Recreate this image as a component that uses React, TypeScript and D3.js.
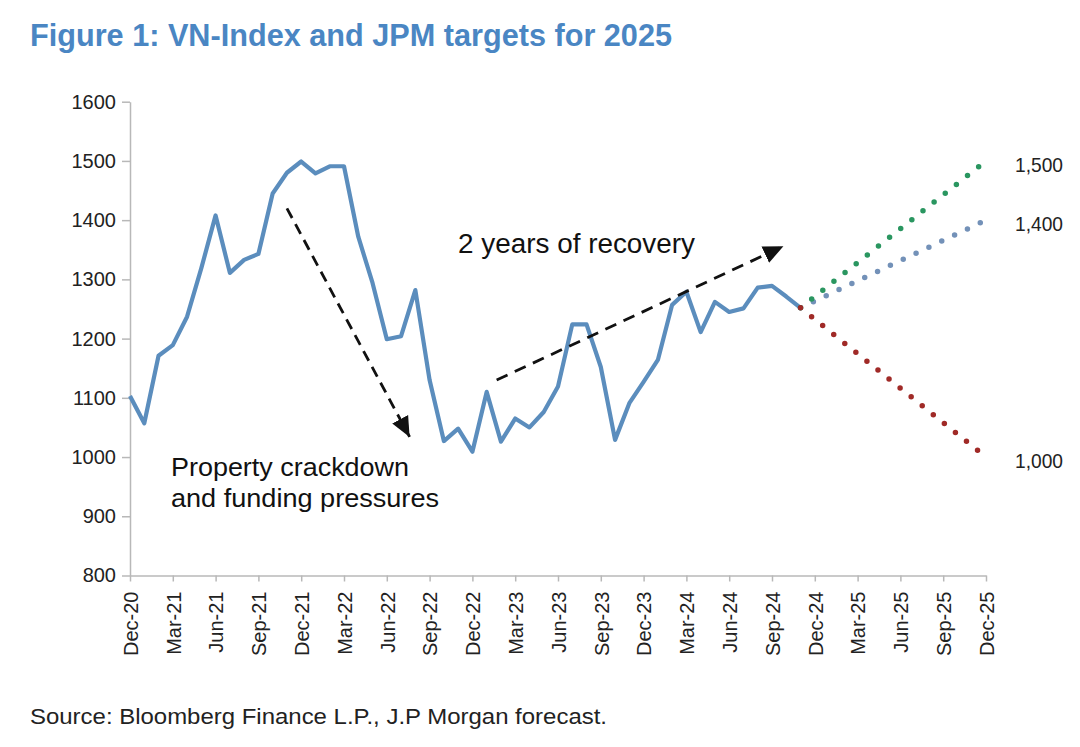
import * as d3 from "d3";
import { useEffect, useRef } from "react";

const WIDTH = 1080;
const HEIGHT = 747;

// month index 0 = Dec-20, 60 = Dec-25
const tickLabels = [
    "Dec-20", "Mar-21", "Jun-21", "Sep-21", "Dec-21", "Mar-22", "Jun-22", "Sep-22",
    "Dec-22", "Mar-23", "Jun-23", "Sep-23", "Dec-23", "Mar-24", "Jun-24", "Sep-24",
    "Dec-24", "Mar-25", "Jun-25", "Sep-25", "Dec-25",
];

// VN-Index month-end closes, Dec-20 .. Nov-24
const vnIndex = [
    1103, 1057, 1171, 1189, 1237, 1319, 1408, 1311, 1333, 1343, 1445, 1480,
    1499, 1479, 1491, 1491, 1372, 1294, 1199, 1204, 1282, 1130, 1027, 1048,
    1009, 1110, 1026, 1065, 1050, 1076, 1119, 1224, 1224, 1152, 1029, 1091,
    1127, 1164, 1257, 1279, 1211, 1262, 1245, 1251, 1286, 1289, 1271, 1252,
];

const yTicks = [800, 900, 1000, 1100, 1200, 1300, 1400, 1500, 1600];

// JPM scenarios for Dec-25 (drawn back-to-front)
const targetValues = [1400, 1500, 1000];
const targetLabels = ["1,400", "1,500", "1,000"];
const targetColors = ["#7391b8", "#2a9660", "#a02a27"];

const FONT = "'Liberation Sans', Arial, Helvetica, sans-serif";

export default function App() {
    const xAxisRef = useRef<SVGGElement | null>(null);
    const yAxisRef = useRef<SVGGElement | null>(null);

    const x = d3.scaleLinear().domain([0, 60]).range([130, 986]);
    const y = d3.scaleLinear().domain([800, 1600]).range([575.5, 101.7]);

    const lastIdx = vnIndex.length - 1;
    const lastVal = vnIndex[lastIdx];

    const line = d3
        .line<number>()
        .x((_, i) => x(i))
        .y((d) => y(d));

    useEffect(() => {
        if (!xAxisRef.current || !yAxisRef.current) return;
        const gx = d3.select(xAxisRef.current);
        gx.selectAll("*").remove();
        gx.call(
            d3
                .axisBottom(x)
                .tickValues(tickLabels.map((_, i) => i * 3))
                .tickSize(6)
                .tickSizeOuter(0)
                .tickFormat((_, i) => tickLabels[i])
        );
        gx.select(".domain").attr("stroke", "#b8b8b8").attr("stroke-width", 1.5);
        gx.selectAll(".tick line").attr("stroke", "#b8b8b8").attr("stroke-width", 1.5);
        gx.selectAll(".tick text")
            .attr("font-family", FONT)
            .attr("font-size", 20)
            .attr("fill", "#222")
            .attr("text-anchor", "end")
            .attr("transform", "rotate(-90)")
            .attr("x", -16)
            .attr("y", 0)
            .attr("dy", "0.36em");

        const gy = d3.select(yAxisRef.current);
        gy.selectAll("*").remove();
        gy.call(d3.axisLeft(y).tickValues(yTicks).tickSize(8).tickSizeOuter(0).tickFormat((d) => String(d)));
        gy.select(".domain").attr("stroke", "#b8b8b8").attr("stroke-width", 1.5);
        gy.selectAll(".tick line").attr("stroke", "#b8b8b8").attr("stroke-width", 1.5);
        gy.selectAll(".tick text")
            .attr("font-family", FONT)
            .attr("font-size", 20)
            .attr("fill", "#222")
            .attr("x", -14);
    }, []);

    return (
        <svg
            width={WIDTH}
            height={HEIGHT}
            style={{ position: "absolute", left: 0, top: 0, background: "#fff" }}
        >
            <defs>
                <marker
                    id="head"
                    markerUnits="userSpaceOnUse"
                    markerWidth={22}
                    markerHeight={22}
                    viewBox="0 0 22 22"
                    refX={20}
                    refY={11}
                    orient="auto"
                >
                    <path d="M0,2 L20,11 L0,20 Z" fill="#111" />
                </marker>
            </defs>

            <text x={30} y={46} fontFamily={FONT} fontWeight="bold" fontSize={31} fill="#4a86c3" textLength={642} lengthAdjust="spacingAndGlyphs">
                Figure 1: VN-Index and JPM targets for 2025
            </text>

            <g ref={yAxisRef} transform={`translate(${x(0)},0)`} />
            <g ref={xAxisRef} transform={`translate(0,${y(800)})`} />

            <path d={line(vnIndex) ?? ""} fill="none" stroke="#5b8dbd" strokeWidth={4.2} strokeLinejoin="round" />

            {targetValues.map((v, i) => (
                <g key={targetLabels[i]}>
                    <line
                        x1={x(lastIdx)}
                        y1={y(lastVal)}
                        x2={x(60)}
                        y2={y(v)}
                        stroke={targetColors[i]}
                        strokeWidth={5.5}
                        strokeLinecap="round"
                        strokeDasharray="0 14.2"
                    />
                    <text x={1015} y={y(v) + 11} fontFamily={FONT} fontSize={21} fill="#222" textLength={48} lengthAdjust="spacingAndGlyphs">
                        {targetLabels[i]}
                    </text>
                </g>
            ))}

            {/* annotation arrows */}
            <line
                x1={x(11)}
                y1={y(1420)}
                x2={x(19.6)}
                y2={y(1034)}
                stroke="#111"
                strokeWidth={2.8}
                strokeDasharray="11 7"
                markerEnd="url(#head)"
            />
            <line
                x1={x(25.7)}
                y1={y(1130)}
                x2={x(45.8)}
                y2={y(1356)}
                stroke="#111"
                strokeWidth={2.8}
                strokeDasharray="12 8"
                markerEnd="url(#head)"
            />

            <text x={458} y={253} fontFamily={FONT} fontSize={27} fill="#111" textLength={237} lengthAdjust="spacingAndGlyphs">
                2 years of recovery
            </text>
            <text fontFamily={FONT} fontSize={26} fill="#111">
                <tspan x={171} y={476} textLength={238} lengthAdjust="spacingAndGlyphs">Property crackdown</tspan>
                <tspan x={171} y={507} textLength={268} lengthAdjust="spacingAndGlyphs">and funding pressures</tspan>
            </text>

            <text x={30} y={724} fontFamily={FONT} fontSize={22} fill="#222" textLength={577} lengthAdjust="spacingAndGlyphs">
                Source: Bloomberg Finance L.P., J.P Morgan forecast.
            </text>
        </svg>
    );
}
